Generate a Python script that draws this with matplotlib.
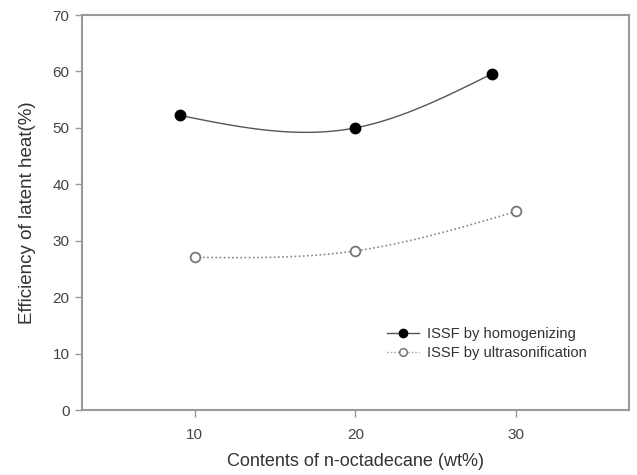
import numpy as np
import matplotlib
matplotlib.use("Agg")
import matplotlib.pyplot as plt

plt.rcParams['font.family'] = ['Liberation Sans', 'DejaVu Sans']

# Data
homo_x = [9.1, 20.0, 28.5]
homo_y = [52.2, 50.0, 59.6]
ultra_x = [10.0, 20.0, 30.0]
ultra_y = [27.05, 28.2, 35.2]
label_homo = "ISSF by homogenizing"
label_ultra = "ISSF by ultrasonification"
xticks = [10, 20, 30]
yticks = [0, 10, 20, 30, 40, 50, 60, 70]


def natural_spline(x, y, n=200):
    x = np.asarray(x, float)
    y = np.asarray(y, float)
    k = len(x)
    h = np.diff(x)
    A = np.zeros((k, k))
    b = np.zeros(k)
    A[0, 0] = 1
    A[-1, -1] = 1
    for i in range(1, k - 1):
        A[i, i - 1] = h[i - 1]
        A[i, i] = 2 * (h[i - 1] + h[i])
        A[i, i + 1] = h[i]
        b[i] = 6 * ((y[i + 1] - y[i]) / h[i] - (y[i] - y[i - 1]) / h[i - 1])
    M = np.linalg.solve(A, b)
    xs = np.linspace(x[0], x[-1], n)
    ys = np.empty_like(xs)
    for j, xv in enumerate(xs):
        i = min(np.searchsorted(x, xv, side='right') - 1, k - 2)
        i = max(i, 0)
        hi = h[i]
        a = x[i + 1] - xv
        c = xv - x[i]
        ys[j] = (M[i] * a ** 3 / (6 * hi) + M[i + 1] * c ** 3 / (6 * hi)
                 + (y[i] / hi - M[i] * hi / 6) * a
                 + (y[i + 1] / hi - M[i + 1] * hi / 6) * c)
    return xs, ys


fig = plt.figure(figsize=(6.37, 4.75), dpi=100)
ax = fig.add_axes([0.1287, 0.1368, 0.8587, 0.8316])

hx, hy = natural_spline(homo_x, homo_y)
ux, uy = natural_spline(ultra_x, ultra_y)

ax.plot(hx, hy, color='#555555', lw=1.0, zorder=2)
ax.plot(homo_x, homo_y, 'o', color='black', ms=7.5, zorder=3)
ax.plot(ux, uy, color='#888888', lw=1.2, ls=(0, (1, 1.5)), zorder=2)
ax.plot(ultra_x, ultra_y, 'o', mfc='white', mec='#777777', mew=1.3, ms=7, zorder=3)

# legend proxies
h1, = ax.plot([], [], '-o', color='#555555', mfc='black', mec='black', lw=1.0, ms=6)
h2, = ax.plot([], [], ls=(0, (1, 1.5)), color='#999999', marker='o', mfc='white',
              mec='#777777', mew=1.1, lw=1.0, ms=5.5)
leg = ax.legend([h1, h2], [label_homo, label_ultra], loc='upper left',
                bbox_to_anchor=(0.547, 0.224), frameon=False, fontsize=10.6,
                handlelength=2.2, handletextpad=0.5, labelspacing=0.3,
                borderaxespad=0)
for t in leg.get_texts():
    t.set_color('#333333')

ax.set_xlim(3, 37)
ax.set_ylim(0, 70)
ax.set_xticks(xticks)
ax.set_yticks(yticks)

for s in ax.spines.values():
    s.set_color('#999999')
    s.set_linewidth(1.5)

ax.tick_params(direction='out', length=5, width=1, color='#999999',
               labelsize=11, labelcolor='#444444', pad=4)
ax.tick_params(axis='x', pad=8)

ax.set_xlabel("Contents of n-octadecane (wt%)", fontsize=13, color='#333333', labelpad=8)
ax.set_ylabel("Efficiency of latent heat(%)", fontsize=13.5, color='#333333', labelpad=12)

fig.savefig("out.png", dpi=100, facecolor='white')
